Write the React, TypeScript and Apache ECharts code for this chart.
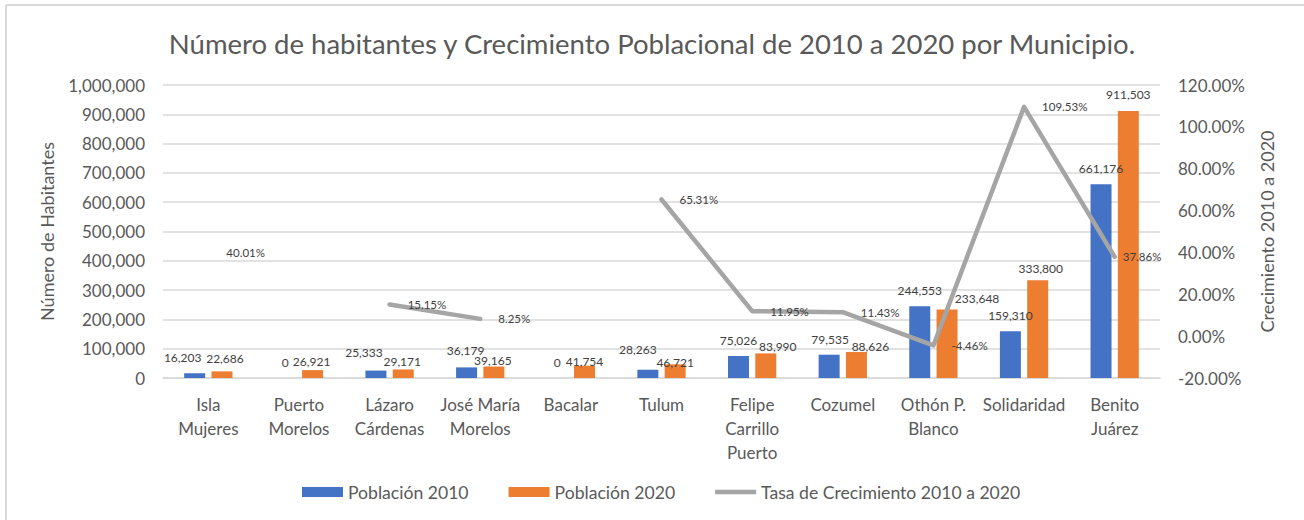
import React, { useEffect, useRef } from "react";
import * as echarts from "echarts";

const categories = [
  "Isla\nMujeres",
  "Puerto\nMorelos",
  "Lázaro\nCárdenas",
  "José María\nMorelos",
  "Bacalar",
  "Tulum",
  "Felipe\nCarrillo\nPuerto",
  "Cozumel",
  "Othón P.\nBlanco",
  "Solidaridad",
  "Benito\nJuárez",
];

const pop2010 = [16203, 0, 25333, 36179, 0, 28263, 75026, 79535, 244553, 159310, 661176];
const pop2020 = [22686, 26921, 29171, 39165, 41754, 46721, 83990, 88626, 233648, 333800, 911503];
// growth rate 2010→2020 in percent; null where the 2010 population is 0
const growth: (number | null)[] = [40.01, null, 15.15, 8.25, null, 65.31, 11.95, 11.43, -4.46, 109.53, 37.86];

const leftTicks = { min: 0, max: 1000000, interval: 100000 };
const rightTicks = { min: -20, max: 120, interval: 20 };

// label nudges (style only) to mimic the reference placement
const nudge2010 = [[-12, 0], [0, 0], [-12, -2], [-1, -1], [0, 0], [-10, -4], [0, 0], [1, 1], [0, 0], [0, 0], [0, 0]];
const nudge2020 = [[3, 3], [-1, 7], [-1, 8], [-1, 10], [0, 12], [0, 14], [12, 9], [14, 10], [30, 5], [3, 4], [0, 0]];
const nudgeGrowth = [[0, 0], [0, 0], [0, 0], [0, 0], [0, 0], [0, 0], [0, 0], [0, 0], [0, 0], [0, 0], [-10, 0]];

const FONT = "Lato";
const TEXT = "#595959";
const LABEL = "#404040";

export default function App() {
  const ref = useRef<HTMLDivElement>(null);

  useEffect(() => {
    if (!ref.current) return;
    const chart = echarts.init(ref.current, undefined, { renderer: "svg" });
    const fmtNum = (v: number) => Number(v).toLocaleString("en-US");

    const barLabel = {
      show: true,
      position: "top",
      distance: 9,
      fontSize: 12,
      lineHeight: 14,
      color: LABEL,
      fontFamily: FONT,
      formatter: (p: any) => fmtNum(p.value),
    };

    chart.setOption({
      animation: false,
      textStyle: { fontFamily: FONT },
      title: {
        text: "Número de habitantes y Crecimiento Poblacional de 2010 a 2020 por Municipio.",
        left: "center",
        top: 24,
        textStyle: { fontFamily: FONT, fontSize: 27.5, fontWeight: "normal", color: TEXT },
      },
      graphic: [
        { type: "line", shape: { x1: 6, y1: 5, x2: 1304, y2: 5 }, style: { stroke: "#D9D9D9", lineWidth: 2 } },
        { type: "line", shape: { x1: 6, y1: 5, x2: 6, y2: 520 }, style: { stroke: "#D9D9D9", lineWidth: 2 } },
      ],
      legend: {
        left: 302,
        top: 483,
        padding: 0,
        itemWidth: 41,
        itemHeight: 10,
        itemGap: 40,
        textStyle: { fontFamily: FONT, fontSize: 17.6, color: TEXT },
        data: [
          { name: "Población 2010", icon: "rect" },
          { name: "Población 2020", icon: "rect" },
          { name: "Tasa de Crecimiento 2010 a 2020", icon: "path://M0,0 L45,0 L45,5 L0,5 Z" },
        ],
      },
      grid: { left: 163, right: 144, top: 85, bottom: 142 },
      xAxis: {
        type: "category",
        data: categories,
        axisTick: { show: false },
        axisLine: { show: true, lineStyle: { color: "#D9D9D9", width: 1.5 } },
        axisLabel: {
          interval: 0,
          margin: 14,
          fontSize: 17,
          lineHeight: 24,
          color: TEXT,
          fontFamily: FONT,
        },
      },
      yAxis: [
        {
          type: "value",
          ...leftTicks,
          name: "Número de Habitantes",
          nameLocation: "middle",
          nameGap: 107,
          nameTextStyle: { fontSize: 18, color: TEXT, fontFamily: FONT },
          axisLine: { show: false },
          axisTick: { show: false },
          axisLabel: { margin: 18, fontSize: 17, color: TEXT, fontFamily: FONT, formatter: fmtNum },
          splitLine: { show: true, lineStyle: { color: "#D9D9D9", width: 1.5 } },
        },
        {
          type: "value",
          ...rightTicks,
          name: "Crecimiento 2010 a 2020",
          nameLocation: "middle",
          nameGap: 98,
          nameRotate: 90,
          nameTextStyle: { fontSize: 18, color: TEXT, fontFamily: FONT },
          axisLine: { show: false },
          axisTick: { show: false },
          splitLine: { show: false },
          axisLabel: {
            margin: 18,
            fontSize: 17,
            color: TEXT,
            fontFamily: FONT,
            formatter: (v: number) => v.toFixed(2) + "%",
          },
        },
      ],
      series: [
        {
          name: "Población 2010",
          type: "bar",
          barWidth: 21,
          barGap: "30%",
          itemStyle: { color: "#4472C4" },
          label: barLabel,
          data: pop2010.map((v, i) => ({ value: v, label: { offset: nudge2010[i] } })),
        },
        {
          name: "Población 2020",
          type: "bar",
          barWidth: 21,
          barGap: "30%",
          itemStyle: { color: "#ED7D31" },
          label: barLabel,
          data: pop2020.map((v, i) => ({ value: v, label: { offset: nudge2020[i] } })),
        },
        {
          name: "Tasa de Crecimiento 2010 a 2020",
          type: "line",
          yAxisIndex: 1,
          symbol: "circle",
          symbolSize: 0.1,
          showSymbol: true,
          connectNulls: false,
          itemStyle: { color: "#A5A5A5" },
          lineStyle: { color: "#A5A5A5", width: 4.5, cap: "round", join: "round" },
          label: {
            show: true,
            position: "right",
            distance: 18,
            fontSize: 11.5,
            color: LABEL,
            fontFamily: FONT,
            formatter: (p: any) => Number(p.value).toFixed(2) + "%",
          },
          z: 5,
          data: growth.map((v, i) =>
            v === null ? "-" : { value: v, label: { offset: nudgeGrowth[i] } }
          ),
        },
      ],
    });

    return () => chart.dispose();
  }, []);

  return (
    <div
      ref={ref}
      style={{ position: "fixed", left: 0, top: 0, width: 1304, height: 520, background: "#fff" }}
    />
  );
}
